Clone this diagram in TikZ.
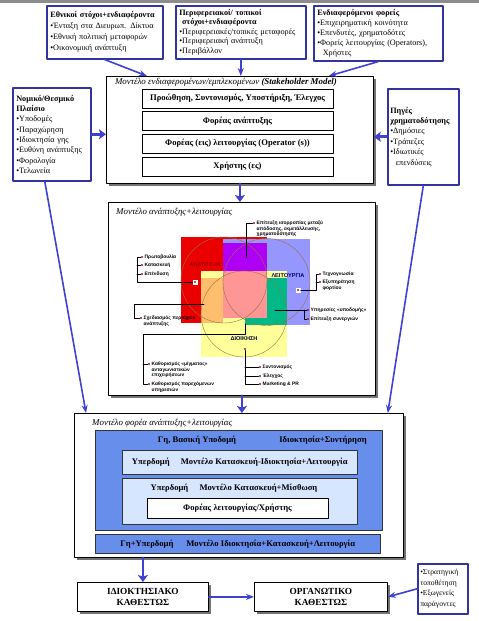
\documentclass[tikz,border=0pt]{standalone}
\usepackage{fontspec}
\setmainfont{Liberation Serif}
\newfontfamily\vennfont{Liberation Sans}
\usetikzlibrary{shadows,arrows.meta}
\definecolor{khungxanh}{RGB}{51,51,160}
\definecolor{muixanh}{RGB}{64,64,210}
\definecolor{xanhvua}{RGB}{104,142,236}
\definecolor{xanhnhat}{RGB}{214,230,255}
\definecolor{dodam}{RGB}{150,20,50}
\definecolor{vien}{RGB}{150,115,60}
\definecolor{vdo}{RGB}{235,0,0}
\definecolor{vxanh}{RGB}{150,150,255}
\definecolor{vvang}{RGB}{255,255,153}
\definecolor{vtim}{RGB}{175,0,245}
\definecolor{vcam}{RGB}{255,190,110}
\definecolor{vluc}{RGB}{0,185,135}
\definecolor{vhong}{RGB}{255,150,150}
\begin{document}
\begin{tikzpicture}[x=1pt, y=-1pt, line join=round, line cap=round, >={Stealth[length=8pt,width=6pt]},
    khung/.style={draw=khungxanh, line width=1.6pt, fill=white, anchor=north west, align=left, inner sep=3pt, font=\fontsize{8.2}{11}\selectfont},
    hop/.style={draw, line width=0.8pt, fill=white, anchor=north west, inner sep=0pt, drop shadow={shadow xshift=3pt, shadow yshift=-3pt, fill=black!55, opacity=1}},
    dong/.style={draw, line width=0.8pt, fill=white, inner sep=0pt, font=\bfseries\fontsize{8.6}{10}\selectfont},
    tieude/.style={anchor=west, inner sep=0pt, font=\itshape\fontsize{8.9}{10}\selectfont},
    lop/.style={draw=black!80, line width=0.6pt, anchor=north west, inner sep=0pt, font=\bfseries\fontsize{8.6}{10}\selectfont},
    chu/.style={inner sep=0pt, font=\bfseries\fontsize{8.6}{10}\selectfont},
    muiday/.style={->, draw=muixanh, line width=1.6pt},
    muito/.style={-{Stealth[length=7pt,width=10pt,inset=1.5pt]}, draw=muixanh, line width=2.8pt},
    nhan/.style={anchor=west, inner sep=0pt, align=left, font=\vennfont\bfseries\fontsize{4.9}{5.8}\selectfont},
    vlabel/.style={inner sep=0pt, font=\vennfont\bfseries\fontsize{5.6}{6}\selectfont},
    redpin/.style={circle, fill=dodam, inner sep=0pt, minimum size=2.4pt},
    oghim/.style={fill=white, inner sep=0pt, minimum size=5pt},
    ketnoi/.style={line width=0.6pt}]
\useasboundingbox (0,0) rectangle (479,621);
\fill[black!45] (0,0) rectangle (479,2.5);
% ba khung trên cùng
\node[khung, minimum width=116, minimum height=53, text width=109, inner sep=2.5pt] (nat) at (46,5) {\textbf{Εθνικοί στόχοι+ενδιαφέροντα}\\•Ένταξη στα Διευρωπ. Δίκτυα\\•Εθνική πολιτική μεταφορών\\•Οικονομική ανάπτυξη};
\node[khung, minimum width=130, minimum height=53, text width=123, inner sep=2.5pt, font=\fontsize{8.2}{9.5}\selectfont] (reg) at (175,5) {\textbf{Περιφερειακοί/ τοπικοί}\\\textbf{\ στόχοι+ενδιαφέροντα}\\•Περιφερειακές/τοπικές μεταφορές\\•Περιφερειακή ανάπτυξη\\•Περιβάλλον};
\node[khung, minimum width=129, minimum height=55, text width=122, inner sep=2.5pt, font=\fontsize{8.2}{9.8}\selectfont] (ent) at (313,5) {\textbf{Ενδιαφερόμενοι φορείς}\\•Επιχειρηματική κοινότητα\\•Επενδυτές, χρηματοδότες\\•Φορείς λειτουργίας (Operators),\\\ \ Χρήστες};
% khung hai bên
\node[khung, minimum width=78, minimum height=93, text width=71, inner sep=2.5pt, font=\fontsize{8.2}{10.3}\selectfont] (legal) at (12,87) {\textbf{Νομικό/Θεσμικό}\\\textbf{Πλαίσιο}\\•Υποδομές\\•Παραχώρηση\\•Ιδιοκτησία γης\\•Ευθύνη ανάπτυξης\\•Φορολογία\\•Τελωνεία};
\node[khung, minimum width=71, minimum height=96, text width=66, inner sep=2.5pt, font=\fontsize{8.2}{10.4}\selectfont] (fund) at (387,88) {\textbf{Πηγές}\\\textbf{χρηματοδότησης}\\•Δημόσιες\\•Τράπεζες\\•Ιδιωτικές\\\ \ επενδύσεις};
% Stakeholder Model
\node[hop, minimum width=267, minimum height=107] (sh) at (106,76) {};
\node[tieude, anchor=center] (shT) at (226,82) {Μοντέλο ενδιαφερομένων/εμπλεκομένων \textbf{(Stakeholder Model)}};
\node[dong, minimum width=191, minimum height=19] (r1) at (237.5,98.5) {Προώθηση, Συντονισμός, Υποστήριξη, Έλεγχος};
\node[dong, minimum width=191, minimum height=19] (r2) at (237.5,121) {Φορέας ανάπτυξης};
\node[dong, minimum width=191, minimum height=19] (r3) at (237.5,143.5) {Φορέας (εις) λειτουργίας (Operator (s))};
\node[dong, minimum width=191, minimum height=19] (r4) at (237.5,166.5) {Χρήστης (ες)};
% Μοντέλο ανάπτυξης
\node[hop, minimum width=267, minimum height=193] (dev) at (108,202) {};
\node[tieude] (devT) at (116,212) {Μοντέλο ανάπτυξης+λειτουργίας};
\fill[vdo] (181,237) rectangle (267,323);
\fill[vxanh] (223,239) rectangle (310,325);
\fill[vvang] (201,271) rectangle (287,357);
\fill[vtim] (223,243) rectangle (267,271);
\fill[vcam] (201,278) rectangle (223,323);
\fill[vluc] (245,278) rectangle (287,325);
\fill[vhong] (223,271) rectangle (267,318);
\draw[vien, line width=0.4pt] (224,280) circle (43) (266.5,282) circle (43.5) (244,314) circle (43);
\node[vlabel, text=red!60!black] (anap) at (205,265) {ΑΝΑΠΤΥΞΗ};
\node[vlabel, text=blue!40!black] (leit) at (288,276) {ΛΕΙΤΟΥΡΓΙΑ};
\node[vlabel, text=black!80!blue] (dioi) at (244,339) {ΔΙΟΙΚΗΣΗ};
% chú thích
\coordinate (c1) at (246,258);
\node[redpin] (p1) at (254,223) {};
\node[nhan, anchor=north west] (t1) at (256.5,220.5) {Επίτευξη ισορροπίας μεταξύ\\απόδοσης, εκμετάλλευσης,\\χρηματοδότησης};
\draw[ketnoi] (c1) |- (p1);
\node[oghim] (m2) at (195,282) {}; \node[redpin] (m2p) at (m2) {};
\coordinate (k2) at (137,257);
\foreach \y/\t [count=\i] in {257/Πρωτοβουλία, 265/Κατασκευή, 274/Επένδυση} {\node[redpin] (q\i) at (142,\y) {}; \node[nhan] (u\i) at (144.5,\y) {\t};}
\draw[ketnoi] (m2) -| (k2) -- (q1) (k2 |- q2) -- (q2) (k2 |- q3) -- (q3);
\coordinate (c3) at (204,304); \coordinate (k3) at (134,304);
\node[redpin] (q4) at (141,318) {};
\node[nhan, anchor=north west] (u4) at (143.5,315.5) {Σχεδιασμός περιοχών\\ανάπτυξης};
\draw[ketnoi] (c3) -- (k3) |- (q4);
\coordinate (c4) at (245,324); \coordinate (k4) at (143,334);
\node[redpin] (q5) at (149,364) {}; \node[redpin] (q6) at (149,384) {};
\node[nhan, anchor=north west] (u5) at (151.5,361.5) {Καθορισμός «μίγματος»\\ανταγωνιστικών\\επιχειρήσεων};
\node[nhan, anchor=north west] (u6) at (151.5,381.5) {Καθορισμός παρεχόμενων\\υπηρεσιών};
\draw[ketnoi] (c4) |- (k4) |- (q6) (k4 |- q5) -- (q5);
\node[redpin] (m5) at (245,349) {};
\foreach \y/\t [count=\i from 7] in {367/Συντονισμός, 376/Έλεγχος, 384/Marketing \& PR} {\node[redpin] (q\i) at (260,\y) {}; \node[nhan] (u\i) at (262.5,\y) {\t};}
\draw[ketnoi] (m5) |- (q9) (m5 |- q7) -- (q7) (m5 |- q8) -- (q8);
\node[oghim] (m6) at (298,290) {}; \node[redpin] (m6p) at (m6) {};
\coordinate (k6) at (316,274);
\node[redpin] (q10) at (320,274) {}; \node[redpin] (q11) at (320,282) {};
\node[nhan] (u10) at (322.5,274) {Τεχνογνωσία};
\node[nhan, anchor=north west] (u11) at (322.5,279.5) {Εξυπηρέτηση\\φορτίου};
\draw[ketnoi] (m6) -| (k6) -- (q10) (k6 |- q11) -- (q11);
\coordinate (c7) at (275,310); \coordinate (k7) at (304,310);
\node[redpin] (q12) at (308,310) {}; \node[redpin] (q13) at (308,319) {};
\node[nhan] (u12) at (310.5,310) {Υπηρεσίες «υποδομής»};
\node[nhan] (u13) at (310.5,319) {Επίτευξη συνεργιών};
\draw[ketnoi] (c7) -- (q12) (k7) |- (q13);
% Μοντέλο φορέα
\node[hop, minimum width=329, minimum height=144] (bot) at (74,413) {};
\node[tieude] (botT) at (92,423) {Μοντέλο φορέα ανάπτυξης+λειτουργίας};
\node[lop, fill=xanhvua, minimum width=287, minimum height=100] (land) at (95,430) {};
\node[chu] (landA) at (197,440) {Γη, Βασική Υποδομή};
\node[chu] (landB) at (323,440) {Ιδιοκτησία+Συντήρηση};
\node[lop, fill=xanhnhat, minimum width=235, minimum height=24] (sup1) at (122,450) {Υπερδομή\hspace{1.3em}Μοντέλο Κατασκευή-Ιδιοκτησία+Λειτουργία};
\node[lop, fill=xanhnhat, minimum width=235, minimum height=46] (sup2) at (122,478) {};
\node[chu] (sup2T) at (234,488) {Υπερδομή\hspace{1.3em}Μοντέλο Κατασκευή+Μίσθωση};
\node[dong, minimum width=181, minimum height=20] (op) at (237.5,508) {Φορέας λειτουργίας/Χρήστης};
\node[lop, fill=xanhvua, minimum width=285, minimum height=19] (gsup) at (95,534) {Γη+Υπερδομή\hspace{1.5em}Μοντέλο Ιδιοκτησία+Κατασκευή+Λειτουργία};
% hai khung cuối
\node[hop, minimum width=131, minimum height=29, align=center, font=\bfseries\fontsize{9.3}{11}\selectfont] (own) at (77,582) {ΙΔΙΟΚΤΗΣΙΑΚΟ\\ΚΑΘΕΣΤΩΣ};
\node[hop, minimum width=133, minimum height=29, align=center, font=\bfseries\fontsize{9.3}{11}\selectfont] (org) at (254,582) {ΟΡΓΑΝΩΤΙΚΟ\\ΚΑΘΕΣΤΩΣ};
\node[khung, minimum width=50, minimum height=50, text width=45, inner sep=1.5pt, font=\fontsize{7.6}{10.6}\selectfont] (ext) at (417,563) {•Στρατηγική\\τοποθέτηση\\•Εξωγενείς\\παράγοντες};
% mũi tên
\draw[muiday] (nat.south) -- ([xshift=41pt]sh.north west);
\draw[muiday] (reg.south) -- (reg.south |- sh.north);
\draw[muiday] (ent.south) -- ([xshift=-45pt]sh.north east);
\draw[muito] (legal.east) -- (legal.east -| sh.west);
\draw[muito] (fund.west) -- (fund.west -| sh.east);
\draw[muito] (sh.south) -- (sh.south |- dev.north);
\draw[muito] (dev.south) -- (dev.south |- bot.north);
\draw[muiday] ([xshift=-7pt]legal.south) -- ([xshift=12pt]bot.north west);
\draw[muiday] (fund.south) -- ([xshift=-16pt]bot.north east);
\draw[muito] (own.north |- bot.south) -- (own.north);
\draw[muiday] (own.east) -- (org.west);
\draw[muiday] (ext.west) -- (org.east);
\end{tikzpicture}
\end{document}
